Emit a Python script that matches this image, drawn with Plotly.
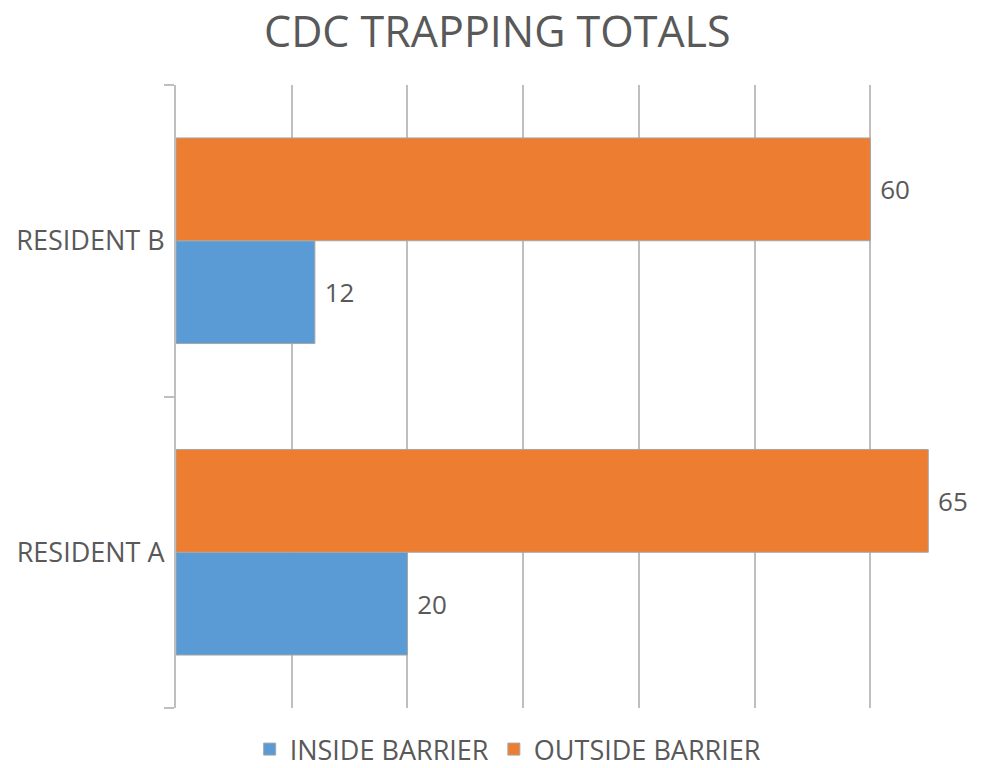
import plotly.graph_objects as go

# Trap counts per resident, inside vs outside the barrier
residents = ["RESIDENT A", "RESIDENT B"]
inside_barrier = [20, 12]
outside_barrier = [65, 60]

series_names = ["INSIDE BARRIER", "OUTSIDE BARRIER"]
series_colors = ["#5B9BD5", "#ED7D31"]

TEXT_GRAY = "#595959"
GRID_GRAY = "#BFBFBF"
FONT = "Open Sans, Liberation Sans, sans-serif"

fig = go.Figure()
for name, values, color in zip(series_names, [inside_barrier, outside_barrier], series_colors):
    fig.add_trace(go.Bar(
        y=residents,
        x=values,
        name=name,
        orientation="h",
        marker=dict(color=color, line=dict(color="#A6A6A6", width=1)),
        text=[" " + str(v) for v in values],
        textposition="outside",
        constraintext="none",
        textfont=dict(color=TEXT_GRAY, size=26, family=FONT),
        cliponaxis=False,
    ))

fig.update_layout(
    width=981,
    height=768,
    margin=dict(l=176, r=18, t=85, b=60, autoexpand=False),
    paper_bgcolor="white",
    plot_bgcolor="white",
    barmode="group",
    bargap=0.34,
    bargroupgap=0,
    font=dict(family=FONT, color=TEXT_GRAY),
    title=dict(
        text="CDC TRAPPING TOTALS",
        x=0.507,
        xanchor="center",
        y=0.958,
        yanchor="middle",
        font=dict(size=43, color=TEXT_GRAY, family=FONT),
    ),
    legend=dict(
        orientation="h",
        xref="container",
        yref="container",
        x=0.518,
        xanchor="center",
        y=0.024,
        yanchor="middle",
        font=dict(size=27, color=TEXT_GRAY, family=FONT),
        itemwidth=30,
        traceorder="normal",
    ),
    xaxis=dict(
        range=[0, 68],
        dtick=10,
        tick0=0,
        showticklabels=False,
        showgrid=True,
        gridcolor=GRID_GRAY,
        gridwidth=2,
        zeroline=False,
        showline=False,
        ticks="",
    ),
    yaxis=dict(
        type="category",
        categoryorder="array",
        categoryarray=residents,
        showline=True,
        linecolor=GRID_GRAY,
        linewidth=2,
        ticks="outside",
        tickson="boundaries",
        ticklen=10,
        tickwidth=2,
        tickcolor=GRID_GRAY,
        ticklabelstandoff=4,
        tickfont=dict(size=27, color=TEXT_GRAY, family=FONT),
        showgrid=False,
    ),
)

fig.write_html("out.html")
